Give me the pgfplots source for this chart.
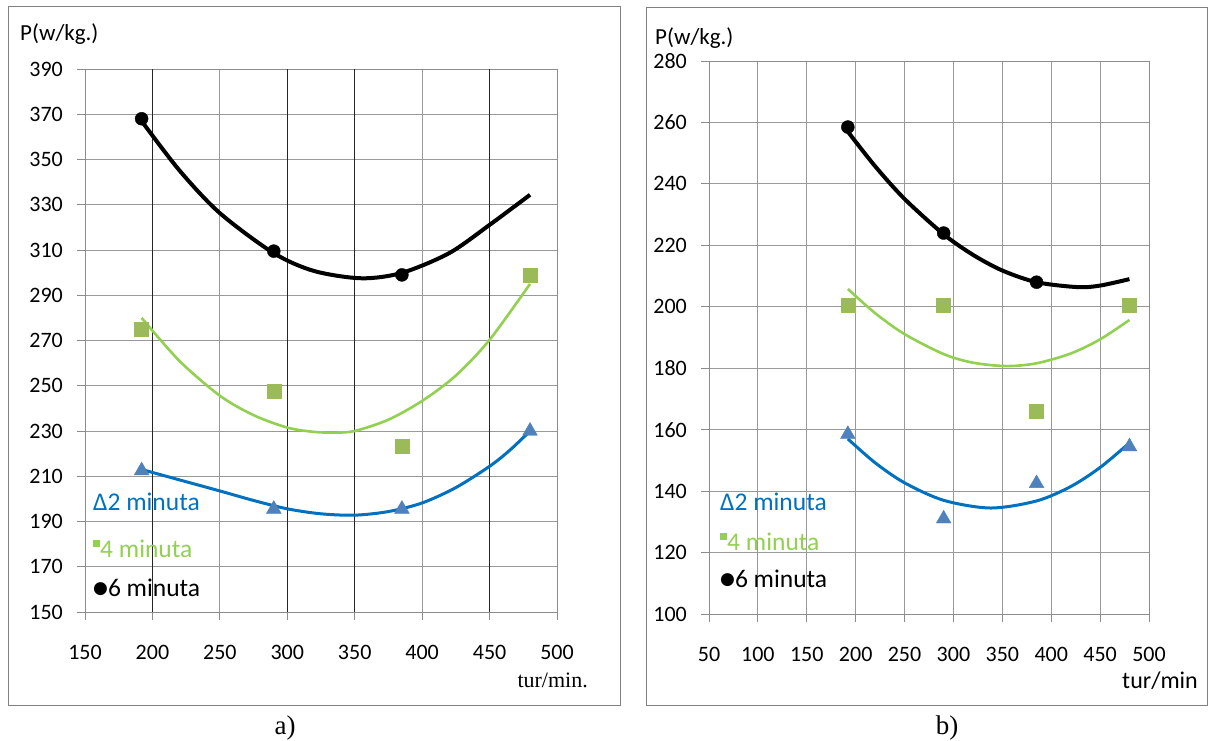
\documentclass[border=0pt]{standalone}
\usepackage{pgfplots}
\pgfplotsset{compat=1.18}
\usepackage{fontspec}
\setmainfont{Carlito}
\newfontfamily\serif{Liberation Serif}
\newfontfamily\dejavu{DejaVu Sans}
\definecolor{bl}{HTML}{0070C0}
\definecolor{tri}{HTML}{4F81BD}
\definecolor{gsq}{HTML}{9BBB59}
\definecolor{gln}{HTML}{92D050}
\pgfplotsset{
  common/.style={
    scale only axis,
    grid=major,
    major grid style={black!40, line width=0.8pt},
    axis line style={black!45, line width=0.8pt},
    tick style={black!45, line width=0.8pt},
    tick align=outside,
    major tick length=8pt,
    tick pos=left,
    ticklabel style={font=\fontsize{22}{26}\selectfont},
    xticklabel style={inner sep=0pt, anchor=north, yshift=-25pt},
    yticklabel style={inner sep=0pt, anchor=east, xshift=-14pt},
    /pgf/number format/assume math mode=true,
  },
  tcurve/.style={no marks, smooth, line width=3pt, bl},
  gcurve/.style={no marks, smooth, line width=2.6pt, gln},
  kcurve/.style={no marks, smooth, line width=4pt, black},
  tmark/.style={only marks, mark=triangle*, mark size=8.5pt, mark options={fill=tri, draw=tri}},
  gmark/.style={only marks, mark=square*, mark size=7pt, mark options={fill=gsq, draw=gsq}},
  kmark/.style={only marks, mark=*, mark size=6.5pt, mark options={fill=black, draw=black}},
}
\begin{document}
\begin{tikzpicture}[x=1pt,y=1pt]
\path (0,0) rectangle (1209,740);
\draw[black!50, line width=1pt] (8,35) rectangle (620,733);
\draw[black!50, line width=1pt] (646,35) rectangle (1207,732);

% ---------------- a) ----------------
\begin{axis}[common, at={(85pt,128pt)}, anchor=south west,
  width=472pt, height=543pt,
  xmin=150, xmax=500, ymin=150, ymax=390,
  xtick={150,200,...,500}, ytick={150,170,...,390},
  extra x ticks={200,300,350,450}, extra x tick labels={},
  extra x tick style={grid=major, major grid style={black!85, line width=0.8pt}}]
\addplot[tcurve] coordinates {(192,213) (220,208.4) (250,203.5) (275,199.3) (300,195.6) (325,193.4) (350,192.8) (375,194.4) (400,198.2) (425,205.0) (450,214.4) (465,221.5) (480,230)};
\addplot[gcurve] coordinates {(192,280) (220,261) (250,245.6) (275,237) (300,231.5) (320,229.6) (335,229.3) (350,230) (375,235) (400,243.3) (425,254.5) (450,270.3) (480,295)};
\addplot[kcurve] coordinates {(192,367) (220,345.2) (250,326.3) (290,308.6) (320,300.7) (355,297.5) (385,299.9) (420,308.6) (450,321.1) (480,334.4)};
\addplot[tmark] coordinates {(192,212.5) (290,195.5) (385,195.5) (480,230)};
\addplot[gmark] coordinates {(192,275) (290,247.5) (385,223.5) (480,299)};
\addplot[kmark] coordinates {(192,368) (290,309.5) (385,299)};
\end{axis}

% ---------------- b) ----------------
\begin{axis}[common, at={(709pt,126pt)}, anchor=south west,
  width=440pt, height=553pt,
  xmin=50, xmax=500, ymin=100, ymax=280,
  xtick={50,100,...,500}, ytick={100,120,...,280}]
\addplot[tcurve] coordinates {(192,157) (220,149.2) (250,142.7) (290,137) (338,134.5) (385,136.8) (420,141.5) (450,147.7) (480,155.7)};
\addplot[gcurve] coordinates {(192,205.8) (220,197.9) (250,191.1) (290,184.6) (320,181.8) (354,180.7) (385,181.6) (420,184.8) (450,189.4) (480,195.7)};
\addplot[kcurve] coordinates {(192,257) (220,245.7) (250,235.1) (290,223.6) (320,216.9) (350,211.8) (385,208) (427,206.4) (450,206.9) (480,209)};
\addplot[tmark] coordinates {(192,158.5) (290,131) (385,142.5) (480,154.5)};
\addplot[gmark] coordinates {(192,200.5) (290,200.5) (385,166) (480,200.5)};
\addplot[kmark] coordinates {(192,258.5) (290,224) (385,208)};
\end{axis}

% labels
\node[anchor=base west, inner sep=0pt, font=\fontsize{23}{27}\selectfont] at (20,699) {P(w/kg.)};
\node[anchor=base west, inner sep=0pt, font=\fontsize{23}{27}\selectfont] at (655,695) {P(w/kg.)};
\node[anchor=base east, inner sep=0pt, font=\serif\fontsize{22}{26}\selectfont] at (588,53) {tur/min.};
\node[anchor=base east, inner sep=0pt, font=\fontsize{24}{28}\selectfont] at (1198,52) {tur/min};
\node[anchor=base, inner sep=0pt, font=\serif\fontsize{27}{30}\selectfont] at (285,6) {a)};
\node[anchor=base, inner sep=0pt, font=\serif\fontsize{27}{30}\selectfont] at (947,6) {b)};

% in-plot legends
\foreach \lx/\ya/\yb/\yc in {93/230/183/144, 720/230/190/153}{
  \node[anchor=base west, inner sep=0pt, text=bl, font=\fontsize{25.5}{29}\selectfont] at (\lx,\ya) {Δ2 minuta};
  \node[anchor=base west, inner sep=0pt, text=gln, font=\fontsize{25.5}{29}\selectfont] at (\lx,\yb) {\raisebox{10pt}{\rule{7pt}{7pt}}4 minuta};
  \node[anchor=base west, inner sep=0pt, text=black, font=\fontsize{25.5}{29}\selectfont] at (\lx,\yc) {\raisebox{3pt}{\dejavu\fontsize{17}{17}\selectfont ●}6 minuta};
}
\end{tikzpicture}
\end{document}
